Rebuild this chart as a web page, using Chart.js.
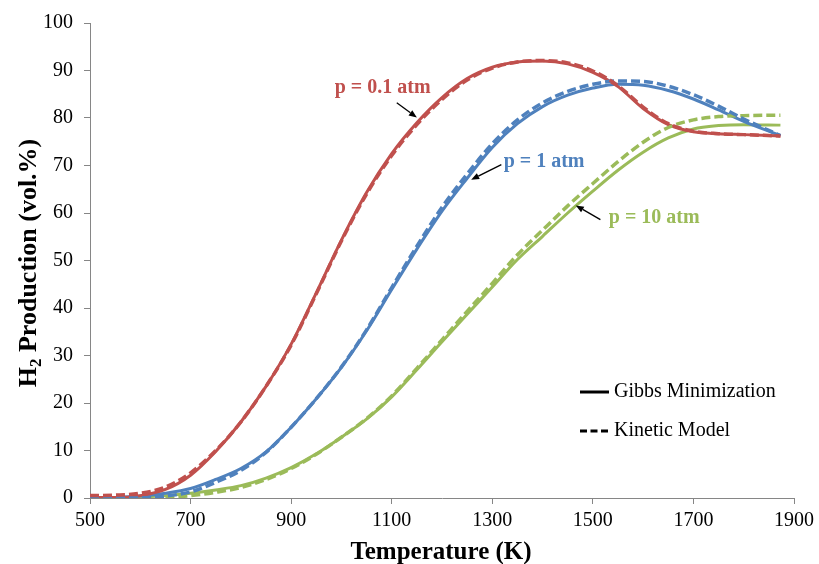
<!DOCTYPE html>
<html>
<head>
<meta charset="utf-8">
<script src="https://cdn.jsdelivr.net/npm/chart.js@4/dist/chart.umd.min.js"></script>
<style>
  html, body { margin: 0; padding: 0; background: #ffffff; }
  #wrap { width: 819px; height: 564px; }
</style>
</head>
<body>
<div id="wrap"><canvas id="chart" width="819" height="564"></canvas></div>
<script>
// Temperature grid (K)
const temperatures = [500, 550, 600, 650, 700, 750, 800, 850, 900, 950, 1000, 1050, 1100, 1150,
  1200, 1250, 1300, 1350, 1400, 1450, 1500, 1550, 1600, 1650, 1700, 1750, 1800, 1873];

// H2 production (vol.%) – Gibbs minimization
const gibbs01 = [0.1, 0.1, 0.5, 1.8, 4.8, 9.8, 16.0, 23.5, 32.4, 43.2, 54.3, 64.3, 72.5, 79.0,
  84.3, 88.3, 90.7, 91.8, 92.0, 91.4, 89.6, 86.6, 82.0, 78.6, 77.1, 76.7, 76.5, 76.2];
const gibbs1 = [0.0, 0.1, 0.4, 1.0, 2.0, 3.9, 6.2, 9.7, 14.9, 20.9, 27.5, 35.2, 43.9, 52.4,
  60.4, 67.3, 73.8, 78.8, 82.4, 84.8, 86.3, 87.1, 86.9, 85.8, 84.0, 81.7, 79.3, 76.3];
const gibbs10 = [0.0, 0.0, 0.2, 0.5, 1.0, 1.7, 2.6, 4.2, 6.4, 9.3, 12.8, 16.6, 21.3, 27.0,
  32.9, 38.7, 44.4, 50.2, 55.1, 60.0, 64.6, 69.0, 72.8, 75.8, 77.7, 78.4, 78.6, 78.5];

// H2 production (vol.%) – kinetic model
const kinetic01 = [0.5, 0.6, 1.0, 2.3, 5.3, 10.0, 16.0, 23.5, 32.2, 43.0, 54.1, 64.0, 72.1, 78.6,
  83.9, 88.0, 90.5, 91.8, 92.1, 91.6, 89.9, 86.8, 82.3, 78.8, 77.2, 76.7, 76.5, 76.2];
const kinetic1 = [0.0, 0.0, 0.0, 0.4, 1.3, 3.3, 5.8, 9.6, 14.9, 20.9, 27.6, 35.4, 44.3, 53.0,
  61.2, 68.2, 74.6, 79.6, 83.2, 85.6, 87.1, 87.8, 87.7, 86.7, 84.9, 82.5, 79.8, 76.3];
const kinetic10 = [null, null, null, 0.0, 0.5, 1.2, 2.2, 3.9, 6.2, 9.2, 12.8, 16.7, 21.5, 27.3,
  33.3, 39.3, 45.2, 51.2, 56.4, 61.5, 66.2, 70.8, 74.9, 78.0, 79.6, 80.3, 80.5, 80.6];

// Axis ticks
const xTicks = [500, 700, 900, 1100, 1300, 1500, 1700, 1900];
const yTicks = [0, 10, 20, 30, 40, 50, 60, 70, 80, 90, 100];

// Pressure labels with leader arrows (data coordinates: K, vol.%)
const pressureLabels = ['p = 0.1 atm', 'p = 1 atm', 'p = 10 atm'];
const labelAnchor = [[1082, 86.3], [1403, 70.7], [1622, 59.0]];
const arrowTail = [[1110, 83.2], [1318, 70.2], [1515, 58.6]];
const arrowHead = [[1150, 80.1], [1258, 67.0], [1466, 61.6]];

const RED = '#C0504D', BLUE = '#4F81BD', GREEN = '#9BBB59';
const labelColors = [RED, BLUE, GREEN];
const SERIF = '"Liberation Serif", "Times New Roman", serif';
const AXIS_GREY = '#868686';

function toPoints(values) {
  return temperatures.map((t, i) => ({ x: t, y: values[i] }));
}

function lineSet(label, values, color, dashed) {
  return {
    label: label,
    data: toPoints(values),
    borderColor: color,
    backgroundColor: color,
    borderWidth: dashed ? 3.5 : 3,
    borderDash: dashed ? [9, 4] : [],
    pointRadius: 0,
    pointHoverRadius: 0,
    fill: false,
    cubicInterpolationMode: 'monotone',
    spanGaps: false
  };
}

// Kinetic curves listed first so they are painted over the equilibrium curves
const datasets = [
  lineSet('Kinetic 0.1 atm', kinetic01, RED, true),
  lineSet('Kinetic 1 atm', kinetic1, BLUE, true),
  lineSet('Kinetic 10 atm', kinetic10, GREEN, true),
  lineSet('Gibbs 0.1 atm', gibbs01, RED, false),
  lineSet('Gibbs 1 atm', gibbs1, BLUE, false),
  lineSet('Gibbs 10 atm', gibbs10, GREEN, false)
];

function drawArrow(ctx, x1, y1, x2, y2) {
  const ang = Math.atan2(y2 - y1, x2 - x1);
  const len = 8, half = 3.2;
  const bx = x2 - len * Math.cos(ang), by = y2 - len * Math.sin(ang);
  ctx.beginPath();
  ctx.moveTo(x1, y1);
  ctx.lineTo(bx, by);
  ctx.stroke();
  ctx.beginPath();
  ctx.moveTo(x2, y2);
  ctx.lineTo(bx + half * Math.sin(ang), by - half * Math.cos(ang));
  ctx.lineTo(bx - half * Math.sin(ang), by + half * Math.cos(ang));
  ctx.closePath();
  ctx.fill();
}

const decorations = {
  id: 'decorations',
  afterDraw(chart) {
    const ctx = chart.ctx;
    const xs = chart.scales.x, ys = chart.scales.y;
    const area = chart.chartArea;
    ctx.save();

    // pressure labels and arrows
    ctx.strokeStyle = '#000';
    ctx.fillStyle = '#000';
    ctx.lineWidth = 1.3;
    for (let i = 0; i < pressureLabels.length; i++) {
      drawArrow(ctx,
        xs.getPixelForValue(arrowTail[i][0]), ys.getPixelForValue(arrowTail[i][1]),
        xs.getPixelForValue(arrowHead[i][0]), ys.getPixelForValue(arrowHead[i][1]));
    }
    ctx.font = 'bold 20px ' + SERIF;
    ctx.textAlign = 'center';
    ctx.textBaseline = 'middle';
    for (let i = 0; i < pressureLabels.length; i++) {
      ctx.fillStyle = labelColors[i];
      ctx.fillText(pressureLabels[i],
        xs.getPixelForValue(labelAnchor[i][0]), ys.getPixelForValue(labelAnchor[i][1]));
    }

    // legend (black line samples)
    const lx0 = area.right - 214, lx1 = area.right - 185, tx = area.right - 180;
    const ly = [area.top + 369, area.top + 408];
    ctx.strokeStyle = '#000';
    ctx.lineWidth = 3;
    ctx.beginPath();
    ctx.moveTo(lx0, ly[0]); ctx.lineTo(lx1, ly[0]);
    ctx.stroke();
    ctx.setLineDash([7, 3.5]);
    ctx.beginPath();
    ctx.moveTo(lx0, ly[1]); ctx.lineTo(lx1, ly[1]);
    ctx.stroke();
    ctx.setLineDash([]);
    ctx.fillStyle = '#000';
    ctx.font = '20px ' + SERIF;
    ctx.textAlign = 'left';
    ctx.textBaseline = 'middle';
    ctx.fillText('Gibbs Minimization', tx, ly[0]);
    ctx.fillText('Kinetic Model', tx, ly[1]);

    // x-axis title
    ctx.font = 'bold 25px ' + SERIF;
    ctx.textAlign = 'center';
    ctx.textBaseline = 'alphabetic';
    ctx.fillText('Temperature (K)', (area.left + area.right) / 2 - 1, 559);

    // y-axis title with subscript
    const big = 'bold 26px ' + SERIF, small = 'bold 17px ' + SERIF;
    const partA = 'H', partB = '2', partC = ' Production (vol.%)';
    ctx.font = big;
    const wA = ctx.measureText(partA).width, wC = ctx.measureText(partC).width;
    ctx.font = small;
    const wB = ctx.measureText(partB).width;
    const total = wA + wB + wC;
    ctx.translate(36, 263);
    ctx.rotate(-Math.PI / 2);
    let pos = -total / 2;
    ctx.textAlign = 'left';
    ctx.font = big;
    ctx.fillText(partA, pos, 0); pos += wA;
    ctx.font = small;
    ctx.fillText(partB, pos, 5); pos += wB;
    ctx.font = big;
    ctx.fillText(partC, pos, 0);
    ctx.restore();
  }
};

new Chart(document.getElementById('chart'), {
  type: 'line',
  data: { datasets: datasets },
  options: {
    responsive: false,
    animation: false,
    devicePixelRatio: 1,
    layout: { padding: { top: 21, right: 24, left: 0, bottom: 0 } },
    plugins: {
      legend: { display: false },
      tooltip: { enabled: false },
      title: { display: false }
    },
    scales: {
      x: {
        type: 'linear',
        min: 500,
        max: 1900,
        afterBuildTicks(scale) { scale.ticks = xTicks.map(v => ({ value: v })); },
        afterFit(scale) { scale.height = 66; },
        ticks: {
          color: '#000',
          font: { family: SERIF, size: 20 },
          padding: 5,
          maxRotation: 0,
          autoSkip: false,
          callback: v => String(v)
        },
        grid: { display: true, drawOnChartArea: false, drawTicks: true, tickLength: 6, color: AXIS_GREY },
        border: { display: true, color: AXIS_GREY, width: 1 },
        title: { display: false }
      },
      y: {
        type: 'linear',
        min: 0,
        max: 100,
        afterBuildTicks(scale) { scale.ticks = yTicks.map(v => ({ value: v })); },
        afterFit(scale) { scale.width = 90; },
        ticks: {
          color: '#000',
          font: { family: SERIF, size: 20 },
          padding: 11,
          autoSkip: false,
          callback: v => String(v)
        },
        grid: { display: true, drawOnChartArea: false, drawTicks: true, tickLength: 6, color: AXIS_GREY },
        border: { display: true, color: AXIS_GREY, width: 1 },
        title: { display: false }
      }
    }
  },
  plugins: [decorations]
});
</script>
</body>
</html>
